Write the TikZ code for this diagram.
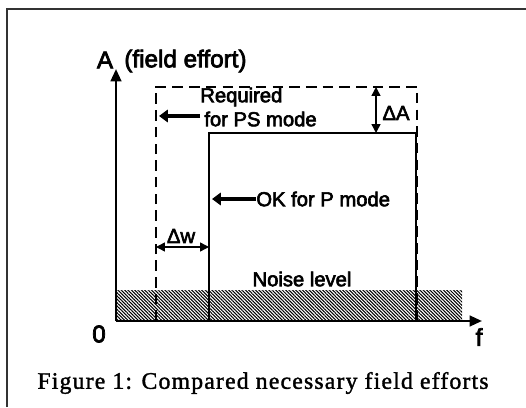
\documentclass[tikz,border=0pt]{standalone}
\usepackage{fontspec}
\setmainfont{Liberation Serif}
\setsansfont{Liberation Sans}
\usepackage{tikz}
\usetikzlibrary{arrows.meta,patterns.meta,positioning}

\tikzset{
  lbl/.style={font=\sffamily\fontsize{11.5}{13}\selectfont\addfontfeatures{FakeBold=3}, inner sep=0pt},
  axlbl/.style={font=\sffamily\fontsize{13.8}{16}\selectfont\addfontfeatures{FakeBold=3}, inner sep=0pt},
  fatarrow/.style={line width=2pt, -{Triangle[length=5pt,width=7pt]}},
  gap/.style={line width=0.8pt, {Triangle[length=5pt,width=5pt]}-{Triangle[length=5pt,width=5pt]}}
}

\begin{document}
\begin{tikzpicture}
\useasboundingbox (-2.32,-1.72) rectangle (8.2,6.42);

% frame around figure
\draw[line width=0.7pt, black!80] (-2.18,-1.72) -- (-2.18,6.24) -- (8.2,6.24);

% noise band
\fill[pattern={Lines[angle=-45,distance=1.35pt,line width=0.6pt]}] (0,0) rectangle (6.92,0.62);

% required area for PS mode (dashed) and area for P mode
\draw[line width=1.2pt, dash pattern=on 6pt off 3.5pt] (0.8,0) -- (0.8,4.68) -- (6.02,4.68) -- (6.02,0);
\draw[line width=0.7pt] (1.86,0) -- (1.86,3.76) -- (6.0,3.76) -- (6.0,0);

% axes
\draw[line width=1.4pt, -{Triangle[length=7pt,width=6pt]}] (0,0) -- (0,5.04);
\draw[line width=1.4pt, -{Triangle[length=7pt,width=6pt]}] (0,0) -- (7.32,0);

\node[axlbl] (A) at (-0.22,5.22) {A};
\node[axlbl, anchor=west] (effort) at (0.16,5.2) {(field effort)};
\node[axlbl] (zero) at (-0.34,-0.26) {0};
\node[axlbl] (freq) at (7.26,-0.32) {f};

% labels with arrows
\node[lbl, anchor=west] (req) at (1.68,4.48) {Required};
\node[lbl, anchor=west] (ps) at (1.76,4.04) {for PS mode};
\coordinate (psend) at (0.86,4.1);
\draw[fatarrow] (1.68,4.1) -- (psend);

\node[lbl, anchor=west] (ok) at (2.8,2.44) {OK for P mode};
\coordinate (okend) at (1.92,2.44);
\draw[fatarrow] (ok.west) -- (okend);

% differences
\coordinate (dAtop) at (5.2,4.68);
\coordinate (dAbot) at (5.2,3.76);
\draw[gap] (dAtop) -- (dAbot);
\node[lbl] (dA) at (5.6,4.16) {ΔA};

\coordinate (dwl) at (0.8,1.48);
\coordinate (dwr) at (1.86,1.48);
\draw[gap] (dwl) -- (dwr);
\node[lbl] (dw) at (1.3,1.7) {Δw};

\node[lbl] (noise) at (3.72,0.84) {Noise level};

% caption
\node[font=\fontsize{13.5}{16}\selectfont\addfontfeatures{LetterSpace=5,FakeBold=1.5}] (cap) at (2.94,-1.24) {Figure 1: Compared necessary field efforts};
\end{tikzpicture}
\end{document}
